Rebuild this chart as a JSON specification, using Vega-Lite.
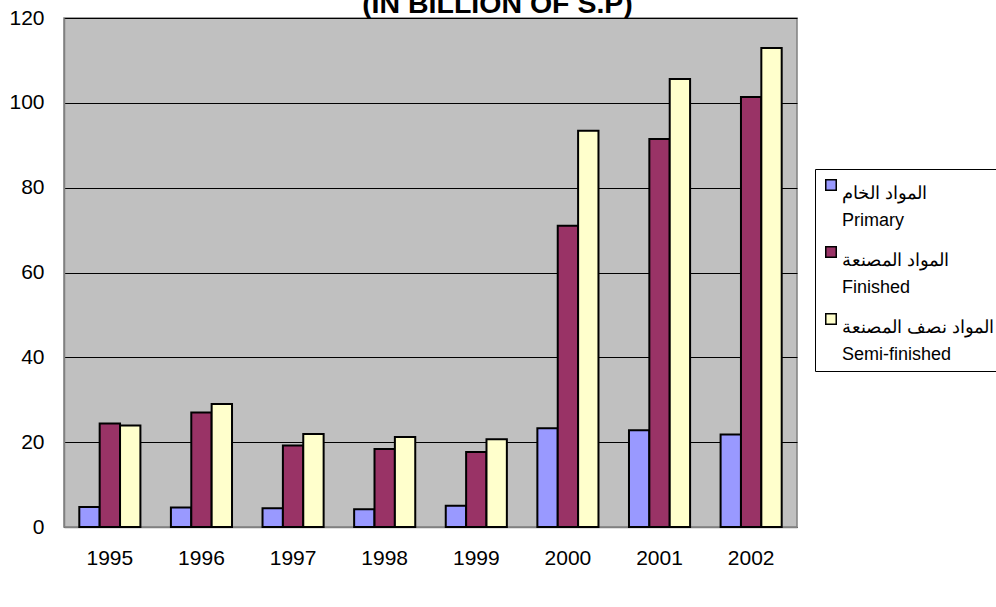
{
  "$schema": "https://vega.github.io/schema/vega-lite/v6.json",
  "width": 733,
  "height": 509,
  "autosize": {"type": "none"},
  "padding": {"left": 64, "top": 18, "right": 199, "bottom": 80},
  "background": "white",
  "title": {
    "text": "(IN BILLION OF S.P)",
    "font": "Liberation Sans",
    "fontSize": 28.5,
    "fontWeight": "bold",
    "color": "black",
    "anchor": "middle",
    "dx": 67,
    "dy": 39,
    "baseline": "alphabetic",
    "offset": 5
  },
  "data": {
    "values": [
      {"year": "1995", "type": "Primary", "value": 4.7},
      {"year": "1995", "type": "Finished", "value": 24.4},
      {"year": "1995", "type": "Semi-finished", "value": 23.9},
      {"year": "1996", "type": "Primary", "value": 4.6},
      {"year": "1996", "type": "Finished", "value": 27.0},
      {"year": "1996", "type": "Semi-finished", "value": 29.0},
      {"year": "1997", "type": "Primary", "value": 4.4},
      {"year": "1997", "type": "Finished", "value": 19.2},
      {"year": "1997", "type": "Semi-finished", "value": 21.9},
      {"year": "1998", "type": "Primary", "value": 4.2},
      {"year": "1998", "type": "Finished", "value": 18.4},
      {"year": "1998", "type": "Semi-finished", "value": 21.2},
      {"year": "1999", "type": "Primary", "value": 5.0},
      {"year": "1999", "type": "Finished", "value": 17.7},
      {"year": "1999", "type": "Semi-finished", "value": 20.7},
      {"year": "2000", "type": "Primary", "value": 23.3},
      {"year": "2000", "type": "Finished", "value": 71.0},
      {"year": "2000", "type": "Semi-finished", "value": 93.4},
      {"year": "2001", "type": "Primary", "value": 22.8},
      {"year": "2001", "type": "Finished", "value": 91.5},
      {"year": "2001", "type": "Semi-finished", "value": 105.6},
      {"year": "2002", "type": "Primary", "value": 21.8},
      {"year": "2002", "type": "Finished", "value": 101.4},
      {"year": "2002", "type": "Semi-finished", "value": 112.9}
    ]
  },
  "mark": {"type": "bar", "stroke": "black", "strokeWidth": 2},
  "encoding": {
    "x": {
      "field": "year",
      "type": "nominal",
      "scale": {"paddingInner": 0.333, "paddingOuter": 0.167},
      "axis": {
        "title": null,
        "labelAngle": 0,
        "labelFont": "Liberation Sans",
        "labelFontSize": 21,
        "labelColor": "black",
        "ticks": false,
        "labelPadding": 20,
        "domainColor": "#808080",
        "domainWidth": 1.5
      }
    },
    "xOffset": {
      "field": "type",
      "sort": ["Primary", "Finished", "Semi-finished"]
    },
    "y": {
      "field": "value",
      "type": "quantitative",
      "scale": {"domain": [0, 120], "nice": false},
      "axis": {
        "title": null,
        "values": [0, 20, 40, 60, 80, 100, 120],
        "labelFont": "Liberation Sans",
        "labelFontSize": 21,
        "labelColor": "black",
        "ticks": false,
        "labelPadding": 20,
        "grid": true,
        "gridColor": "black",
        "gridWidth": 1,
        "domainColor": "#808080",
        "domainWidth": 1.5
      }
    },
    "color": {
      "field": "type",
      "type": "nominal",
      "sort": ["Primary", "Finished", "Semi-finished"],
      "scale": {
        "domain": ["Primary", "Finished", "Semi-finished"],
        "range": ["#9999FF", "#993366", "#FFFFCC"]
      },
      "legend": {
        "title": null,
        "orient": "none",
        "legendX": 751,
        "legendY": 151,
        "padding": 7,
        "fillColor": "white",
        "strokeColor": "black",
        "symbolType": "square",
        "symbolSize": 110,
        "symbolStrokeColor": "black",
        "symbolStrokeWidth": 1.5,
        "labelFont": "Liberation Sans",
        "labelFontSize": 18,
        "labelColor": "black",
        "labelLimit": 0,
        "labelBaseline": "top",
        "labelOffset": 2,
        "rowPadding": 13,
        "labelExpr": "datum.label == 'Primary' ? ['المواد الخام', 'Primary'] : datum.label == 'Finished' ? ['المواد المصنعة', 'Finished'] : ['المواد نصف المصنعة', 'Semi-finished']"
      }
    }
  },
  "config": {
    "view": {"stroke": "#808080", "strokeWidth": 1.5, "fill": "#C0C0C0"},
    "style": {"guide-label": {"lineHeight": 27}}
  }
}
